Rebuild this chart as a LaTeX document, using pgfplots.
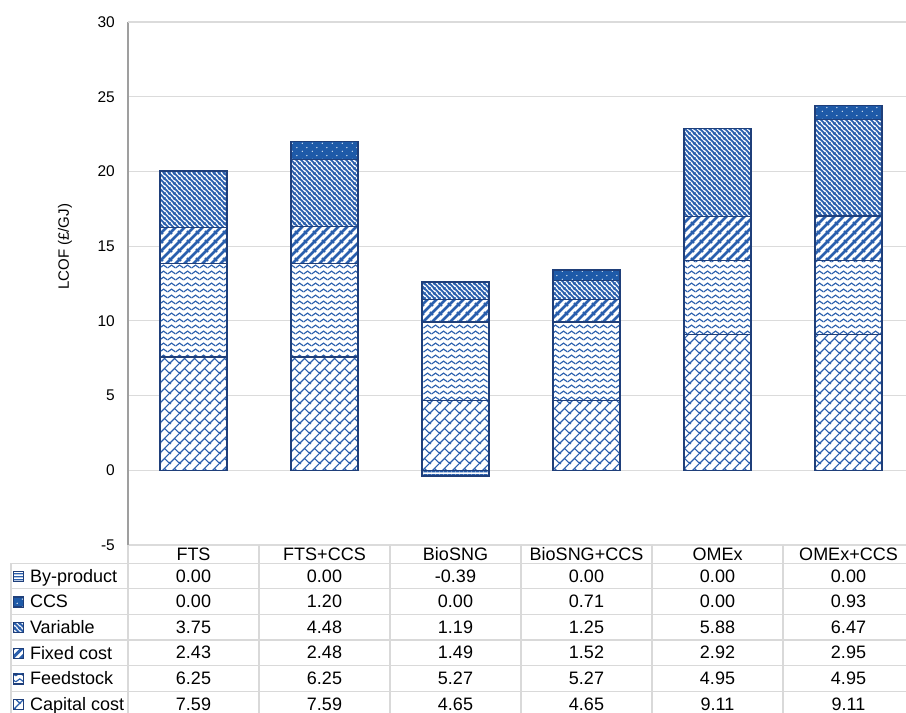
\documentclass[border=0pt]{standalone}
\usepackage{fontspec}
\setmainfont{Liberation Sans}
\usepackage{pgfplots}
\pgfplotsset{compat=1.18}
\usetikzlibrary{patterns}

\definecolor{pblue}{HTML}{2A5FAD}
\definecolor{edge}{HTML}{1F3F7A}
\definecolor{ccsblue}{HTML}{1E5AA8}

% diagonal brick
\pgfdeclarepatternformonly{brick}{\pgfqpoint{0pt}{0pt}}{\pgfqpoint{10pt}{10pt}}{\pgfqpoint{10pt}{10pt}}{%
  \pgfsetlinewidth{1.2pt}%
  \pgfpathmoveto{\pgfqpoint{-1pt}{-1pt}}\pgfpathlineto{\pgfqpoint{11pt}{11pt}}%
  \pgfpathmoveto{\pgfqpoint{-1pt}{9pt}}\pgfpathlineto{\pgfqpoint{1pt}{11pt}}%
  \pgfpathmoveto{\pgfqpoint{9pt}{-1pt}}\pgfpathlineto{\pgfqpoint{11pt}{1pt}}%
  \pgfpathmoveto{\pgfqpoint{5pt}{5pt}}\pgfpathlineto{\pgfqpoint{10.5pt}{-0.5pt}}%
  \pgfusepath{stroke}}
% wave
\pgfdeclarepatternformonly{wave}{\pgfqpoint{0pt}{0pt}}{\pgfqpoint{8pt}{6pt}}{\pgfqpoint{8pt}{6pt}}{%
  \pgfsetlinewidth{1.3pt}%
  \pgfpathmoveto{\pgfqpoint{-0.5pt}{1.5pt}}%
  \pgfpathlineto{\pgfqpoint{0pt}{1.5pt}}%
  \pgfpathcurveto{\pgfqpoint{1.6pt}{1.5pt}}{\pgfqpoint{2.4pt}{4.5pt}}{\pgfqpoint{4pt}{4.5pt}}%
  \pgfpathcurveto{\pgfqpoint{5.6pt}{4.5pt}}{\pgfqpoint{6.4pt}{1.5pt}}{\pgfqpoint{8pt}{1.5pt}}%
  \pgfpathlineto{\pgfqpoint{8.5pt}{1.5pt}}%
  \pgfusepath{stroke}}
% wide upward diagonal
\pgfdeclarepatternformonly{wideup}{\pgfqpoint{0pt}{0pt}}{\pgfqpoint{8.5pt}{8.5pt}}{\pgfqpoint{8.5pt}{8.5pt}}{%
  \pgfsetlinewidth{2.9pt}%
  \pgfpathmoveto{\pgfqpoint{-1pt}{-1pt}}\pgfpathlineto{\pgfqpoint{9.5pt}{9.5pt}}%
  \pgfpathmoveto{\pgfqpoint{-1pt}{7.5pt}}\pgfpathlineto{\pgfqpoint{1pt}{9.5pt}}%
  \pgfpathmoveto{\pgfqpoint{7.5pt}{-1pt}}\pgfpathlineto{\pgfqpoint{9.5pt}{1pt}}%
  \pgfusepath{stroke}}
% dark downward diagonal
\pgfdeclarepatternformonly{darkdown}{\pgfqpoint{0pt}{0pt}}{\pgfqpoint{5pt}{5pt}}{\pgfqpoint{5pt}{5pt}}{%
  \pgfsetlinewidth{2.1pt}%
  \pgfpathmoveto{\pgfqpoint{-1pt}{6pt}}\pgfpathlineto{\pgfqpoint{6pt}{-1pt}}%
  \pgfpathmoveto{\pgfqpoint{-1pt}{1pt}}\pgfpathlineto{\pgfqpoint{1pt}{-1pt}}%
  \pgfpathmoveto{\pgfqpoint{4pt}{6pt}}\pgfpathlineto{\pgfqpoint{6pt}{4pt}}%
  \pgfusepath{stroke}}
% dots
\pgfdeclarepatternformonly{ccsdots}{\pgfqpoint{0pt}{0pt}}{\pgfqpoint{10pt}{8pt}}{\pgfqpoint{10pt}{8pt}}{%
  \pgfpathcircle{\pgfqpoint{2.5pt}{2pt}}{0.75pt}%
  \pgfpathcircle{\pgfqpoint{7.5pt}{6pt}}{0.75pt}%
  \pgfusepath{fill}}
% horizontal lines
\pgfdeclarepatternformonly{hlines}{\pgfqpoint{0pt}{0pt}}{\pgfqpoint{4pt}{3pt}}{\pgfqpoint{4pt}{3pt}}{%
  \pgfsetlinewidth{1.4pt}%
  \pgfpathmoveto{\pgfqpoint{-0.5pt}{1.5pt}}\pgfpathlineto{\pgfqpoint{4.5pt}{1.5pt}}%
  \pgfusepath{stroke}}

\pgfplotsset{
  capst/.style={draw=edge, line width=1.3pt, preaction={fill=white}, pattern=brick, pattern color=pblue},
  feedst/.style={draw=edge, line width=1.3pt, preaction={fill=white}, pattern=wave, pattern color=pblue},
  fixst/.style={draw=edge, line width=1.3pt, preaction={fill=white}, pattern=wideup, pattern color=pblue},
  varst/.style={draw=edge, line width=1.3pt, preaction={fill=white}, pattern=darkdown, pattern color=pblue},
  ccsst/.style={draw=edge, line width=1.3pt, preaction={fill=ccsblue}, pattern=ccsdots, pattern color=white},
  byst/.style={draw=edge, line width=1.3pt, preaction={fill=white}, pattern=hlines, pattern color=pblue},
}

\begin{document}
\begin{tikzpicture}
\useasboundingbox (0,0) rectangle (906pt,713pt);
\clip (0,0) rectangle (906pt,713pt);
\begin{axis}[
  at={(128pt,168pt)}, anchor=south west,
  scale only axis, width=786pt, height=523pt,
  xmin=-0.5, xmax=5.5, ymin=-5, ymax=30,
  ytick={-5,0,...,30}, xtick=\empty,
  ybar stacked, bar width=67pt,
  axis x line=none, axis y line*=left,
  y axis line style={draw=gray!75, line width=1.3pt},
  ymajorgrids, major grid style={draw=gray!28, line width=1.2pt},
  extra y ticks={30}, extra y tick labels={},
  extra y tick style={grid style={draw=gray!65, line width=1.3pt}},
  major tick length=0pt,
  tick label style={font=\fontsize{15.5}{17}\selectfont},
  /pgf/number format/assume math mode=true,
  yticklabel style={inner sep=0pt, xshift=-13pt},
  ylabel={LCOF (£/GJ)},
  ylabel style={font=\fontsize{15}{17}\selectfont, at={(axis description cs:-0.0802,0.57)}, anchor=center},
  reverse legend,
  legend cell align=left,
  legend style={at={(axis description cs:-0.1463,-0.035)}, anchor=north west, draw=none, fill=none,
    inner sep=0pt, column sep=6pt, row sep=0pt, font=\fontsize{18}{20}\selectfont,
    nodes={inner sep=0pt, text height=18.8pt, text depth=6.8pt}},
  legend image code/.code={\draw[#1, line width=0.8pt] (0pt,-5.2pt) rectangle (10pt,4.8pt);},
]
\addplot[capst] coordinates {(0,7.59) (1,7.59) (2,4.65) (3,4.65) (4,9.11) (5,9.11)};
\addplot[feedst] coordinates {(0,6.25) (1,6.25) (2,5.27) (3,5.27) (4,4.95) (5,4.95)};
\addplot[fixst] coordinates {(0,2.43) (1,2.48) (2,1.49) (3,1.52) (4,2.92) (5,2.95)};
\addplot[varst] coordinates {(0,3.75) (1,4.48) (2,1.19) (3,1.25) (4,5.88) (5,6.47)};
\addplot[ccsst] coordinates {(0,0.00) (1,1.20) (2,0.00) (3,0.71) (4,0.00) (5,0.93)};
\addlegendimage{byst}
\legend{Capital cost, Feedstock, Fixed cost, Variable, CCS, By-product}
\end{axis}
\begin{axis}[
  at={(128pt,168pt)}, anchor=south west,
  scale only axis, width=786pt, height=523pt,
  xmin=-0.5, xmax=5.5, ymin=-5, ymax=30,
  hide axis, ybar, bar width=67pt, bar shift=0pt,
]
\addplot[byst] coordinates {(0,0.00) (1,0.00) (2,-0.39) (3,0.00) (4,0.00) (5,0.00)};
\end{axis}
% data table grid
\foreach \y in {149.7,124.1,98.5,72.9,47.3,21.7,-3.9}
  \draw[gray!30, line width=1.2pt] (11pt,\y pt) -- (920pt,\y pt);
\draw[gray!30, line width=1.2pt] (11pt,149.7pt) -- (11pt,-5pt);
\draw[gray!30, line width=1.2pt] (128pt,168pt) -- (128pt,-5pt);
\foreach \x in {259,390,521,652,783}
  \draw[gray!30, line width=1.2pt] (\x pt,168pt) -- (\x pt,-5pt);
\foreach \n [count=\i from 0] in {FTS,FTS+CCS,BioSNG,BioSNG+CCS,OMEx,OMEx+CCS}
  \node[anchor=base, inner sep=0pt, font=\fontsize{18}{20}\selectfont] at ({193.5pt+131pt*\i},152.6pt) {\n};
\foreach \vals [count=\r from 0] in {{0.00,0.00,-0.39,0.00,0.00,0.00},{0.00,1.20,0.00,0.71,0.00,0.93},{3.75,4.48,1.19,1.25,5.88,6.47},{2.43,2.48,1.49,1.52,2.92,2.95},{6.25,6.25,5.27,5.27,4.95,4.95},{7.59,7.59,4.65,4.65,9.11,9.11}}
  \foreach \v [count=\i from 0] in \vals
    \node[anchor=base, inner sep=0pt, font=\fontsize{18}{20}\selectfont] at ({193.5pt+131pt*\i},{130.9pt-25.6pt*\r}) {\v};
\end{tikzpicture}
\end{document}
